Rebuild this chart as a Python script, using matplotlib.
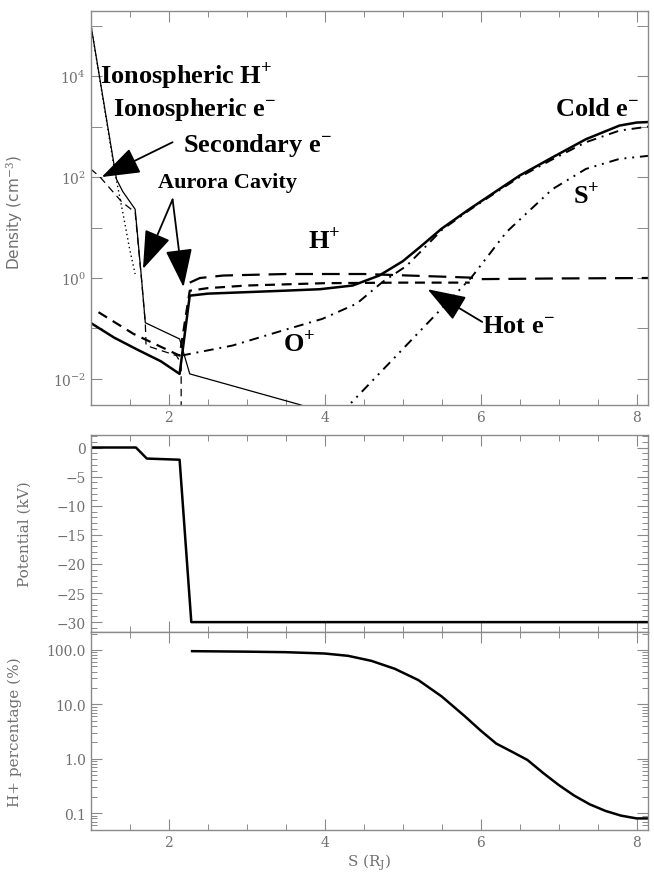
import numpy as np
import matplotlib.pyplot as plt
from matplotlib.ticker import MultipleLocator, LogLocator, FixedLocator, NullFormatter, FuncFormatter

plt.rcParams['mathtext.fontset'] = 'custom'
plt.rcParams['mathtext.rm'] = 'DejaVu Serif'
plt.rcParams['mathtext.it'] = 'DejaVu Serif:italic'
plt.rcParams['mathtext.bf'] = 'Liberation Serif:bold'

# ---- density panel data (S in R_J, density in cm^-3) ----
iono_h_s = [1.0, 1.33, 1.41, 1.57, 1.65, 1.70, 2.14, 2.27, 3.68, 4.2]
iono_h = [1.1e5, 91, 52, 23, 1.05, 0.13, 0.062, 0.0126, 0.0031, 0.0017]

iono_e_s = [1.0, 1.31, 1.42, 1.50, 1.57]
iono_e = [1.1e5, 125, 17, 3.7, 1.2]

sec_e_s = [1.0, 1.12, 1.40, 1.57, 1.65, 1.70, 1.71, 2.10, 2.16, 2.16]
sec_e = [145, 100, 32, 20, 1.0, 0.13, 0.046, 0.029, 0.02, 1e-3]

cold_e_s = [1.0, 1.3, 1.6, 1.9, 2.14, 2.27, 2.5, 3.17, 3.5, 3.94, 4.36, 4.70, 5.0,
            5.22, 5.5, 5.86, 6.2, 6.5, 6.92, 7.35, 7.78, 8.0, 8.15]
cold_e = [0.129, 0.066, 0.038, 0.0224, 0.0126, 0.447, 0.49, 0.537, 0.562, 0.60, 0.71,
          1.12, 2.14, 4.07, 9.5, 23.4, 52.5, 107, 245, 562, 1047, 1202, 1230]

hot_e_s = [1.1, 1.55, 2.14, 2.27, 2.5, 3.0, 4.0, 5.0, 5.86]
hot_e = [0.21, 0.078, 0.029, 0.56, 0.63, 0.71, 0.79, 0.81, 0.81]

h_plus_s = [2.27, 2.4, 2.7, 3.5, 4.5, 5.86, 6.0, 7.0, 8.15]
h_plus = [0.81, 1.0, 1.12, 1.2, 1.2, 1.02, 0.95, 0.98, 1.0]

o_plus_s = [2.16, 2.82, 3.46, 3.97, 4.41, 4.74, 5.05, 5.26, 5.5, 5.86, 6.2, 6.5,
            6.92, 7.35, 7.78, 8.15]
o_plus = [0.029, 0.046, 0.091, 0.155, 0.31, 0.83, 1.74, 3.7, 8.9, 22.4, 50, 100,
          224, 490, 832, 1000]

s_plus_s = [4.2, 5.88, 6.33, 6.92, 7.35, 7.78, 8.15]
s_plus = [0.002, 1.02, 8.1, 57.5, 145, 229, 263]

# ---- potential panel ----
pot_s = [1.0, 1.58, 1.72, 2.14, 2.29, 8.15]
pot_kv = [0, 0, -1.9, -2.1, -30, -30]

# ---- H+ percentage panel ----
pct_s = [2.3, 3.0, 3.5, 4.0, 4.3, 4.6, 4.9, 5.2, 5.5, 5.8, 6.0, 6.2, 6.4, 6.6, 6.8,
         7.0, 7.2, 7.4, 7.6, 7.8, 8.0, 8.15]
pct_h = [95, 93, 91, 86, 78, 63, 45, 28, 14, 6.0, 3.3, 1.9, 1.35, 0.95, 0.55,
         0.33, 0.21, 0.145, 0.11, 0.09, 0.08, 0.08]

GRAY = '#707070'
SPINE = '#8a8a8a'
W, H = 654, 878

fig = plt.figure(figsize=(W / 100, H / 100), dpi=100)


def px_axes(x0, y0, x1, y1):
    return fig.add_axes([x0 / W, 1 - y1 / H, (x1 - x0) / W, (y1 - y0) / H])


ax1 = px_axes(90.7, 12, 648.3, 405.7)
ax2 = px_axes(90.7, 435.7, 648.3, 633)
ax3 = px_axes(90.7, 633, 648.3, 831)


def style(ax):
    for sp in ax.spines.values():
        sp.set_color(SPINE)
        sp.set_linewidth(1.0)
    ax.tick_params(which='both', direction='in', top=True, right=True,
                   colors=SPINE, labelcolor=GRAY, labelsize=10)
    ax.tick_params(which='major', length=8, width=0.8)
    ax.tick_params(which='minor', length=4, width=0.7)
    for lab in ax.get_xticklabels() + ax.get_yticklabels():
        lab.set_family('DejaVu Serif')
    ax.set_xlim(1.0, 8.15)
    ax.xaxis.set_major_locator(MultipleLocator(2))
    ax.xaxis.set_minor_locator(MultipleLocator(0.5))


# ---- top: densities ----
ax1.set_yscale('log')
ax1.plot(iono_h_s, iono_h, color='k', lw=0.9)
ax1.plot(iono_e_s, iono_e, color='k', lw=1.0, ls=(0, (1, 2.2)))
ax1.plot(sec_e_s, sec_e, color='k', lw=0.9, ls=(0, (6, 4)))
ax1.plot(cold_e_s, cold_e, color='k', lw=1.8)
ax1.plot(hot_e_s, hot_e, color='k', lw=1.6, ls=(0, (4.5, 3)))
ax1.plot(h_plus_s, h_plus, color='k', lw=1.6, ls=(0, (8, 4)))
ax1.plot(o_plus_s, o_plus, color='k', lw=1.4, ls=(0, (5, 3, 1, 3)))
ax1.plot(s_plus_s, s_plus, color='k', lw=1.4, ls=(0, (5, 3, 1, 3, 1, 3)))
ax1.set_ylim(10 ** -2.51, 10 ** 5.29)
ax1.yaxis.set_major_locator(FixedLocator([1e-2, 1e0, 1e2, 1e4]))
ax1.yaxis.set_minor_locator(LogLocator(base=10, subs=(1.0,), numticks=20))
ax1.yaxis.set_major_formatter(FuncFormatter(
    lambda v, p: r'$\mathdefault{10^{%d}}$' % round(np.log10(v))))
ax1.yaxis.set_minor_formatter(NullFormatter())
ax1.set_ylabel(r'Density (cm$^{-3}$)', color=GRAY, fontsize=11, family='DejaVu Sans')
ax1.yaxis.set_label_coords(-0.118, 0.49)
style(ax1)
ax1.tick_params(axis='y', which='minor', length=8)

bold = dict(family='Liberation Serif', fontweight='bold', color='k', fontsize=19)
ax1.text(1.12, 1e4, r'Ionospheric H$^{\mathbf{+}}$', va='center', **bold)
ax1.text(1.29, 2240, r'Ionospheric e$^{\mathbf{-}}$', va='center', **bold)
ax1.text(2.18, 447, r'Secondary e$^{\mathbf{-}}$', va='center', **bold)
ax1.text(1.86, 80, 'Aurora Cavity', va='center', family='Liberation Serif',
         fontweight='bold', fontsize=16)
ax1.text(3.78, 5.4, r'H$^{\mathbf{+}}$', va='center', **bold)
ax1.text(6.95, 2240, r'Cold e$^{\mathbf{-}}$', va='center', **bold)
ax1.text(7.18, 42, r'S$^{\mathbf{+}}$', va='center', **bold)
ax1.text(3.46, 0.049, r'O$^{\mathbf{+}}$', va='center', **bold)
ax1.text(6.02, 0.112, r'Hot e$^{\mathbf{-}}$', va='center', **bold)

arrow = dict(arrowstyle='-|>,head_length=1.0,head_width=0.35', mutation_scale=24,
             lw=1.3, color='k', shrinkA=0, shrinkB=0)
ax1.annotate('', xy=(1.14, 100), xytext=(2.05, 490), arrowprops=arrow)
ax1.annotate('', xy=(1.67, 1.51), xytext=(2.05, 36), arrowprops=arrow)
ax1.annotate('', xy=(2.19, 0.66), xytext=(2.05, 36), arrowprops=arrow)
ax1.annotate('', xy=(5.32, 0.60), xytext=(6.02, 0.135), arrowprops=arrow)

# ---- middle: potential ----
ax2.plot(pot_s, pot_kv, color='k', lw=1.8)
ax2.set_ylim(-31.7, 2.2)
ax2.yaxis.set_major_locator(MultipleLocator(5))
ax2.yaxis.set_minor_locator(MultipleLocator(1))
ax2.yaxis.set_major_formatter(FuncFormatter(
    lambda v, p: '0' if abs(v) < 1e-9 else '\u2212%d' % abs(round(v))))
ax2.set_ylabel('Potential (kV)', color=GRAY, fontsize=11, family='DejaVu Serif')
ax2.yaxis.set_label_coords(-0.105, 0.5)
style(ax2)
ax2.tick_params(axis='x', labelbottom=False)

# ---- bottom: H+ percentage ----
ax3.set_yscale('log')
ax3.plot(pct_s, pct_h, color='k', lw=1.8)
ax3.set_ylim(10 ** -1.31, 10 ** 2.33)
ax3.yaxis.set_major_locator(FixedLocator([0.1, 1, 10, 100]))
ax3.yaxis.set_minor_locator(LogLocator(base=10, subs=np.arange(2, 10), numticks=20))
ax3.yaxis.set_major_formatter(FuncFormatter(lambda v, p: '%.1f' % v))
ax3.yaxis.set_minor_formatter(NullFormatter())
ax3.set_ylabel('H+ percentage (%)', color=GRAY, fontsize=11, family='DejaVu Serif')
ax3.yaxis.set_label_coords(-0.123, 0.5)
ax3.set_xlabel(r'S (R$_{\rm J}$)', color=GRAY, fontsize=11, family='DejaVu Serif',
               labelpad=2)
style(ax3)

fig.savefig('out.png', dpi=100)
